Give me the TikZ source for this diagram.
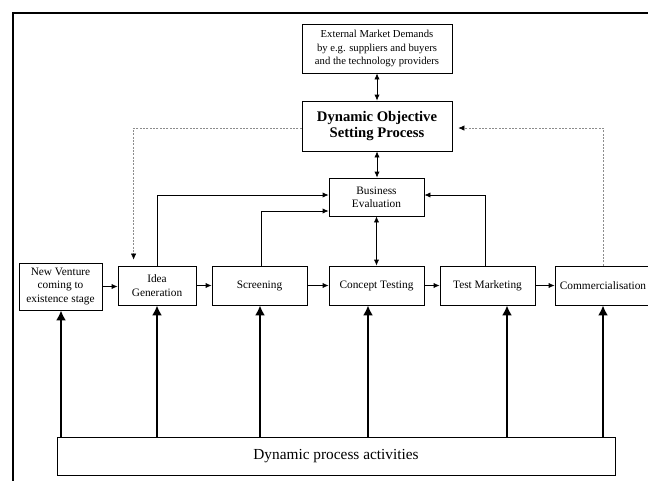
\documentclass[tikz,border=0pt]{standalone}
\usepackage{fontspec}
\setmainfont{Liberation Serif}
\usetikzlibrary{calc}
\usetikzlibrary{positioning}
\usetikzlibrary{arrows}
\usetikzlibrary{arrows.meta}

\begin{document}
\begin{tikzpicture}[->, >={Latex[length=4.5pt,width=4pt]}, x=0.75pt, y=-0.75pt, line width=0.6pt, font=\fontsize{8.5}{10}\selectfont]
    \tikzstyle{box}=[draw=black,rectangle,fill=white,align=center,inner sep=0pt,minimum height=29.25pt]
    \tikzstyle{stage}=[box,minimum width=71.25pt]
    \tikzstyle{feedback}=[draw=black!45,line width=0.4pt,dash pattern=on 1.5pt off 1pt,-{Latex[length=4.5pt,width=4pt,color=black]}]
    \tikzstyle{heavy}=[line width=2.2pt,-{Latex[length=7.5pt,width=7.5pt]}]

    \useasboundingbox (0,0) rectangle (648,480);
    \clip (0,0) rectangle (648,480);
    \draw[-,line width=1.5pt] (13,481) -- (13,13) -- (649,13);

    % objective setting
    \node[box, minimum width=112.5pt, minimum height=36.75pt, font=\fontsize{8}{10}\selectfont] (ext) at (377,48.5)
        {External Market Demands\\by e.g. suppliers and buyers\\and the technology providers};
    \node[box, minimum width=112.5pt, minimum height=37.5pt, font=\fontsize{11}{12.5}\selectfont\bfseries] (dosp) at (377,126)
        {Dynamic Objective\\Setting Process};
    \node[box, minimum width=71.25pt, minimum height=28.5pt] (bus) at (376.5,197) {Business\\Evaluation};

    % stages
    \node[box, minimum width=62.25pt, minimum height=35.25pt] (nv) at (60.5,286.5) {New Venture\\coming to\\existence stage};
    \node[box, minimum width=58.5pt] (idea) at (157,285.5) {Idea\\Generation};
    \node[stage] (scr) at (259.5,285.5) {Screening};
    \node[stage] (ct) at (376.5,285.5) {Concept Testing};
    \node[stage] (tm) at (487.5,285.5) {Test Marketing};
    \node[stage, minimum width=72pt] (com) at (603,285.5) {Commercialisation};

    \node[box, minimum width=418.5pt, minimum height=28.5pt, font=\fontsize{11.5}{13}\selectfont] (act) at (336,456) {Dynamic process activities};

    \draw[<->] (ext) -- (dosp);
    \draw[<->] (dosp.south) -- (dosp.south |- bus.north);
    \draw[<->] (bus) -- (ct);

    \draw (nv.east) -- (nv.east -| idea.west);
    \draw (idea) -- (scr);
    \draw (scr) -- (ct);
    \draw (ct) -- (tm);
    \draw (tm) -- (com);

    \draw (idea.north) |- ($(bus.west)+(0,-2)$);
    \draw ($(scr.north)+(2,0)$) |- ($(bus.west)+(0,14)$);
    \draw ($(tm.north)+(-2,0)$) |- ($(bus.east)+(0,-2)$);

    \draw[feedback] ($(dosp.west)+(0,2)$) -| ($(idea.north west)+(16,-6)$);
    \draw[feedback] (com.north) |- ($(dosp.east)+(6,2)$);

    \foreach \n/\dx in {nv/0.5, idea/0, scr/0.5, ct/-8.5, tm/19.5, com/0} {
        \coordinate (top) at ($(\n.south)+(\dx,0)$);
        \draw[heavy] (top |- act.north) -- (top);
    }
\end{tikzpicture}
\end{document}
